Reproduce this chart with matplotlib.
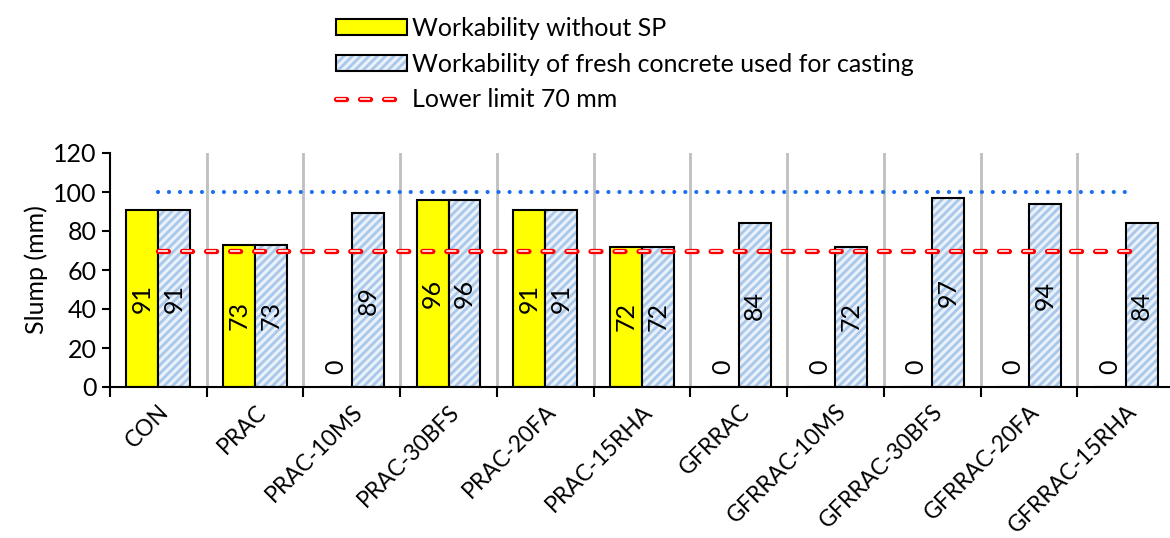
import matplotlib
matplotlib.use("Agg")
import matplotlib.pyplot as plt
from matplotlib.patches import Patch
from matplotlib.lines import Line2D
from matplotlib.legend_handler import HandlerTuple
import numpy as np

plt.rcParams["font.family"] = ["Lato", "DejaVu Sans"]
plt.rcParams["hatch.linewidth"] = 2.0
plt.rcParams["lines.scale_dashes"] = False  # dash patterns in points

# --- data ---
mixes = ["CON", "PRAC", "PRAC-10MS", "PRAC-30BFS", "PRAC-20FA", "PRAC-15RHA",
         "GFRRAC", "GFRRAC-10MS", "GFRRAC-30BFS", "GFRRAC-20FA", "GFRRAC-15RHA"]
slump_no_sp = [91, 73, 0, 96, 91, 72, 0, 0, 0, 0, 0]
slump_casting = [91, 73, 89, 96, 91, 72, 84, 72, 97, 94, 84]
upper_limit = [100] * len(mixes)
lower_limit = [70] * len(mixes)

FS = 18
YELLOW = "#ffff00"
PALE = "#eaf1fa"
STRIPE = "#a9c8ea"

# hollow red dashes: thick red round-capped dash with a thin white core
RED_DASH = (0, (7.2, 10.1))
red_kw = dict(color="#ff0000", lw=3.8, linestyle=RED_DASH,
              dash_capstyle="round")
core_kw = dict(color="white", lw=1.2, linestyle=RED_DASH,
               dash_capstyle="butt")

fig = plt.figure(figsize=(11.7, 5.38), dpi=100)
ax = fig.add_axes([110 / 1170, 1 - 387 / 538, 1064 / 1170, 234 / 538])

x = np.arange(len(mixes))
w = 0.33

# vertical separators between mixes
for b in np.arange(0.5, len(mixes), 1.0):
    ax.plot([b, b], [0, 120], color="#bfbfbf", lw=2, zorder=0.5)

# without SP: solid yellow
ax.bar(x - w / 2, slump_no_sp, width=w, color=YELLOW, edgecolor="black",
       linewidth=1.5, zorder=2)

# casting mix: pale blue with diagonal stripes, outlined separately
ax.bar(x + w / 2, slump_casting, width=w, color=PALE, edgecolor=STRIPE,
       linewidth=0, hatch="////", zorder=2)
ax.bar(x + w / 2, slump_casting, width=w, fill=False, edgecolor="black",
       linewidth=1.5, zorder=2.1)

# value labels inside bars
for xi, v in zip(x, slump_no_sp):
    yv = v / 2 if v > 0 else 10.5
    ax.text(xi - w / 2, yv, str(v), rotation=90, ha="center", va="center",
            fontsize=FS, zorder=3)
for xi, v in zip(x, slump_casting):
    ax.text(xi + w / 2, v / 2, str(v), rotation=90, ha="center", va="center",
            fontsize=FS, zorder=3)

# limit lines
ax.plot(x, upper_limit, color="#1a6ff0", lw=3.0, linestyle=(0, (0.01, 7.9)),
        dash_capstyle="round", zorder=4)
lx = [0, len(mixes) - 1 + 0.05]
ax.plot(lx, lower_limit[:2], zorder=4, **red_kw)
ax.plot(lx, lower_limit[:2], zorder=4.1, **core_kw)

ax.set_xlim(-0.5, len(mixes) - 0.5)
ax.set_ylim(0, 120)
ax.set_yticks(np.arange(0, 121, 20))
ax.set_ylabel("Slump (mm)", fontsize=FS, labelpad=4)

ax.set_xticks(np.arange(-0.5, len(mixes), 1.0))
ax.set_xticklabels([])
ax.set_xticks(x, minor=True)
ax.set_xticklabels(mixes, minor=True, rotation=45, ha="right",
                   rotation_mode="anchor", fontsize=16.5)
ax.tick_params(axis="x", which="major", direction="out", length=7, width=1.5)
ax.tick_params(axis="x", which="minor", length=0, pad=10)
ax.tick_params(axis="y", direction="out", length=6, width=1.5, labelsize=FS)

for s in ("top", "right"):
    ax.spines[s].set_visible(False)
for s in ("left", "bottom"):
    ax.spines[s].set_linewidth(1.5)

# legend
h_yellow = Patch(facecolor=YELLOW, edgecolor="black", linewidth=1.5)
h_blue = (Patch(facecolor=PALE, edgecolor=STRIPE, hatch="////", linewidth=0),
          Patch(fill=False, edgecolor="black", linewidth=1.5))
h_red = (Line2D([], [], **red_kw), Line2D([], [], **core_kw))
fig.legend([h_yellow, h_blue, h_red],
           ["Workability without SP",
            "Workability of fresh concrete used for casting",
            "Lower limit 70 mm"],
           handler_map={tuple: HandlerTuple(ndivide=1, pad=0)},
           loc="upper left", bbox_to_anchor=(313 / 1170, 1.01),
           frameon=False, fontsize=FS, handlelength=2.85,
           handleheight=0.6, handletextpad=0.2, labelspacing=0.5)

fig.savefig("out.png", dpi=100)
